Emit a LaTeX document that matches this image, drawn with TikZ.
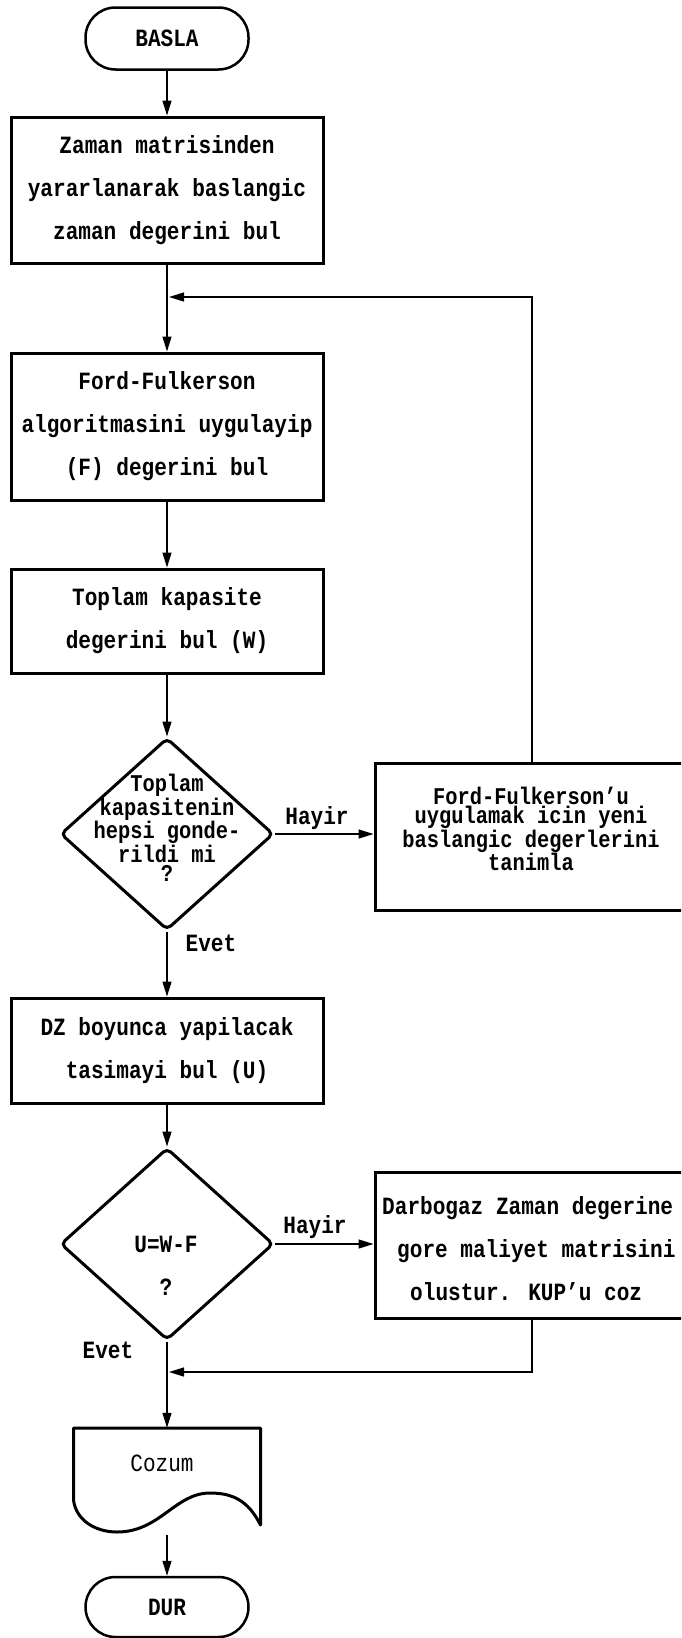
\documentclass[tikz,border=0pt]{standalone}
\usepackage{fontspec}
\newfontfamily\dotfont{Liberation Mono}[FakeStretch=0.85]
\usetikzlibrary{shapes.geometric,arrows.meta}

\begin{document}
\begin{tikzpicture}[x=1pt,y=-1pt,
  txt/.style={font=\dotfont\bfseries\fontsize{24.8}{43}\selectfont, align=center, inner sep=0pt},
  tight/.style={font=\dotfont\bfseries\fontsize{24}{19.6}\selectfont, align=center, inner sep=0pt},
  proc/.style={txt, draw, line width=3pt, minimum width=312pt},
  term/.style={txt, draw, line width=2.5pt, rounded corners=30pt, minimum width=163pt, minimum height=62pt},
  dec/.style={diamond, draw, line width=3pt, rounded corners=5pt, inner sep=0pt, minimum width=213pt, minimum height=192pt},
  conn/.style={line width=1.4pt, -{Triangle[length=15pt,width=9pt]}},
]
\useasboundingbox (0,0) rectangle (681,1638);
\clip (0,0) rectangle (681,1638);
\fill[white] (0,0) rectangle (681,1638);

% main column
\node[term] (basla) at (167,38.5) {BASLA};
\node[proc, minimum height=146pt] (b1) at (167,190) {Zaman matrisinden\\yararlanarak baslangic\\zaman degerini bul};
\node[proc, minimum height=147pt] (b2) at (167,426.5) {Ford-Fulkerson\\algoritmasini uygulayip\\(F) degerini bul};
\node[proc, minimum height=104pt] (b3) at (167,621) {Toplam kapasite\\degerini bul (W)};
\node[dec] (d1) at (167,834) {};
\node[tight] (d1t) at (167,828) {Toplam\\kapasitenin\\hepsi gonde-\\rildi mi\\?};
\node[proc, minimum height=105pt] (b5) at (167,1050.5) {DZ boyunca yapilacak\\tasimayi bul (U)};
\node[dec] (d2) at (167,1244) {};
\node[txt] (d2t) at (166,1266) {U=W-F\\?};

% output document and end
\node[inner sep=0pt, minimum width=187pt, minimum height=107pt] (doc) at (167,1481.5) {};
\draw[line width=3pt, line join=round] (73.5,1500) -- (73.5,1428) -- (260.5,1428) -- (260.5,1525)
  .. controls (248,1500) and (232,1493) .. (210,1493)
  .. controls (175,1493) and (160,1532) .. (117,1532)
  .. controls (95,1532) and (76,1520) .. (73.5,1500) -- cycle;
\node[font=\dotfont\fontsize{24.8}{30}\selectfont, inner sep=0pt] (doct) at (162,1463) {Cozum};
\node[term, minimum height=60pt] (dur) at (167,1607) {DUR};

% side column
\node[proc, minimum width=314pt, minimum height=147pt] (r1) at (532,836.5) {};
\node[tight] (r1t) at (531,829) {Ford-Fulkerson’u\\uygulamak icin yeni\\baslangic degerlerini\\tanimla};
\node[proc, minimum width=314pt, minimum height=146pt] (r2) at (532,1245) {};
\node[txt, align=left, anchor=west] (r2t) at (382,1249) {Darbogaz Zaman degerine\\\hspace*{15pt}gore maliyet matrisini\\\hspace*{28pt}olustur. KUP’u coz};

% branch labels
\node[txt] (h1) at (317,818) {Hayir};
\node[txt] (e1) at (211,943) {Evet};
\node[txt] (h2) at (315,1227) {Hayir};
\node[txt] (e2) at (108,1350) {Evet};

% loop and return points
\coordinate (loopC) at (532,297);
\coordinate (loopIn) at (169,297);
\coordinate (retC) at (532,1372);
\coordinate (retIn) at (169,1372);
\coordinate (docOut) at (167,1535);

% connectors
\draw[conn] (basla) -- (b1);
\draw[conn] (b1) -- (b2);
\draw[conn] (r1.north) -- (loopC) -- (loopIn);
\draw[conn] (b2) -- (b3);
\draw[conn] (b3) -- (d1);
\draw[conn] (d1.east) -- (d1.east -| r1.west);
\draw[conn] (d1) -- (b5);
\draw[conn] (b5) -- (d2);
\draw[conn] (d2.east) -- (d2.east -| r2.west);
\draw[conn] (d2.south) -- (doc.north);
\draw[conn] (r2.south) -- (retC) -- (retIn);
\draw[conn] (docOut) -- (dur);
\end{tikzpicture}
\end{document}
